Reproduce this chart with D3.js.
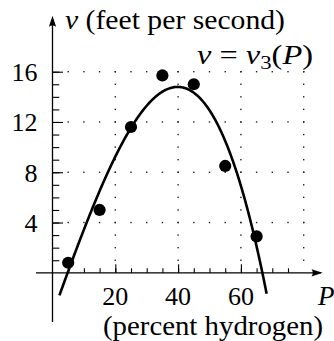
<!DOCTYPE html>
<html>
<head>
<script src="https://cdn.jsdelivr.net/npm/d3@7/dist/d3.min.js"></script>
</head>
<body style="margin:0">
<svg id="chart" width="334" height="341"></svg>
<script>
// Measured speed v (feet per second) against percent hydrogen P
const percent = [5, 15, 25, 35, 45, 55, 65];
const speed = [0.8, 5.0, 11.6, 15.7, 15.0, 8.5, 2.9];

// Tick values
const xTickLabels = [20, 40, 60];
const yTickLabels = [4, 8, 12, 16];
const xMinorTicks = d3.range(5, 80, 5);
const yMinorTicks = d3.range(1, 17, 1);

// Range of P over which the fitted curve is drawn
const curveDomain = [2.2, 68.2];

const serif = "Liberation Serif";

const svg = d3.select("#chart");

const x = d3.scaleLinear().domain([0, 80]).range([52.5, 303.7]);
const y = d3.scaleLinear().domain([0, 16]).range([272.8, 71.7]);

// Least-squares cubic v3(P) fitted to the measurements
function fitCubic(xs, ys) {
  const n = 4;
  const A = Array.from({length: n}, () => new Array(n + 1).fill(0));
  xs.forEach((xv, k) => {
    const pw = [1, xv, xv * xv, xv * xv * xv];
    for (let i = 0; i < n; i++) {
      for (let j = 0; j < n; j++) A[i][j] += pw[i] * pw[j];
      A[i][n] += pw[i] * ys[k];
    }
  });
  for (let c = 0; c < n; c++) {
    let p = c;
    for (let r = c + 1; r < n; r++) if (Math.abs(A[r][c]) > Math.abs(A[p][c])) p = r;
    [A[c], A[p]] = [A[p], A[c]];
    for (let r = 0; r < n; r++) {
      if (r === c) continue;
      const f = A[r][c] / A[c][c];
      for (let k = c; k <= n; k++) A[r][k] -= f * A[c][k];
    }
  }
  return A.map((row, i) => row[n] / row[i]);
}
const coef = fitCubic(percent, speed);
const v3 = p => coef[0] + coef[1] * p + coef[2] * p * p + coef[3] * p * p * p;

// Dotted grid: rows at labelled v, columns at labelled P (plus 80)
const gridCols = [20, 40, 60, 80];
const gridDots = [];
yTickLabels.forEach(v => xMinorTicks.concat([80]).forEach(p => gridDots.push([p, v])));
gridCols.forEach(p => yMinorTicks.forEach(v => gridDots.push([p, v])));
svg.append("g").selectAll("rect").data(gridDots).join("rect")
  .attr("x", d => x(d[0]) - 0.7)
  .attr("y", d => y(d[1]) - 0.7)
  .attr("width", 1.4).attr("height", 1.4)
  .attr("fill", "#222");

// Axis lines
const axisStroke = 1.3;
svg.append("line")
  .attr("x1", 36).attr("x2", x(85.5))
  .attr("y1", y(0)).attr("y2", y(0))
  .attr("stroke", "#000").attr("stroke-width", axisStroke);
svg.append("line")
  .attr("x1", x(0)).attr("x2", x(0))
  .attr("y1", 322).attr("y2", y(20.2))
  .attr("stroke", "#000").attr("stroke-width", axisStroke);

// Arrowheads
const arrow = "M0,0 L-11,-3.6 Q-8.5,0 -11,3.6 Z";
svg.append("path").attr("d", arrow)
  .attr("transform", `translate(${x(86)},${y(0)})`);
svg.append("path").attr("d", arrow)
  .attr("transform", `translate(${x(0)},${y(20.45)}) rotate(-90)`);

// Minor ticks on both axes (pointing into the plot)
const gxMinor = svg.append("g").attr("transform", `translate(0,${y(0)})`)
  .call(d3.axisBottom(x).tickValues(xMinorTicks).tickSizeInner(-4.5).tickSizeOuter(0).tickFormat(""));
gxMinor.select(".domain").remove();
gxMinor.selectAll("line").attr("stroke-width", 1.1);

const gyMinor = svg.append("g").attr("transform", `translate(${x(0)},0)`)
  .call(d3.axisLeft(y).tickValues(yMinorTicks).tickSizeInner(-6.8).tickSizeOuter(0).tickFormat(""));
gyMinor.select(".domain").remove();
gyMinor.selectAll("line").attr("stroke-width", 1.1);

// Major ticks
const gx = svg.append("g").attr("transform", `translate(0,${y(0)})`)
  .call(d3.axisBottom(x).tickValues(xTickLabels).tickSizeInner(-8.5).tickSizeOuter(0).tickFormat(""));
gx.select(".domain").remove();
gx.selectAll("line").attr("stroke-width", 1.1);

const gy = svg.append("g").attr("transform", `translate(${x(0)},0)`)
  .call(d3.axisLeft(y).tickValues(yTickLabels).tickSizeInner(-10.5).tickSizeOuter(0).tickFormat(""));
gy.select(".domain").remove();
gy.selectAll("line").attr("stroke-width", 1.1);

// Tick labels
svg.append("g").selectAll("text").data(xTickLabels).join("text")
  .attr("x", d => x(d)).attr("y", y(0) + 32.3)
  .attr("text-anchor", "middle").attr("font-size", 26)
  .style("font-family", `"${serif}"`)
  .text(d => d);

svg.append("g").selectAll("text").data(yTickLabels).join("text")
  .attr("x", x(0) - 15).attr("y", d => y(d) + 9.4)
  .attr("text-anchor", "end").attr("font-size", 26)
  .style("font-family", `"${serif}"`)
  .text(d => d);

// Fitted curve
const curveP = d3.range(curveDomain[0], curveDomain[1], 0.2).concat([curveDomain[1]]);
svg.append("path")
  .datum(curveP)
  .attr("fill", "none")
  .attr("stroke", "#000")
  .attr("stroke-width", 2.6)
  .attr("d", d3.line().x(p => x(p)).y(p => y(v3(p))));

// Measured points
svg.append("g").selectAll("circle").data(percent.map((p, i) => [p, speed[i]])).join("circle")
  .attr("cx", d => x(d[0]))
  .attr("cy", d => y(d[1]))
  .attr("r", 6.1)
  .attr("fill", "#000");

// Labels
function label(xPos, yPos, width) {
  const t = svg.append("text").attr("x", xPos).attr("y", yPos)
    .attr("font-size", 27).style("font-family", `"${serif}"`);
  if (width) t.attr("textLength", width).attr("lengthAdjust", "spacingAndGlyphs");
  return t;
}

const yLabel = label(65, 29, 220);
yLabel.append("tspan").attr("font-style", "italic").text("v");
yLabel.append("tspan").text(" (feet per second)");

const curveLabel = label(197, 64, 116);
curveLabel.append("tspan").attr("font-style", "italic").text("v");
curveLabel.append("tspan").text(" = ");
curveLabel.append("tspan").attr("font-style", "italic").text("v");
curveLabel.append("tspan").attr("font-size", 19).attr("dy", 5).text("3");
curveLabel.append("tspan").attr("dy", -5).text("(");
curveLabel.append("tspan").attr("font-style", "italic").text("P");
curveLabel.append("tspan").text(")");

label(318, 305).attr("font-style", "italic").text("P");

label(103, 335, 220).text("(percent hydrogen)");
</script>
</body>
</html>
